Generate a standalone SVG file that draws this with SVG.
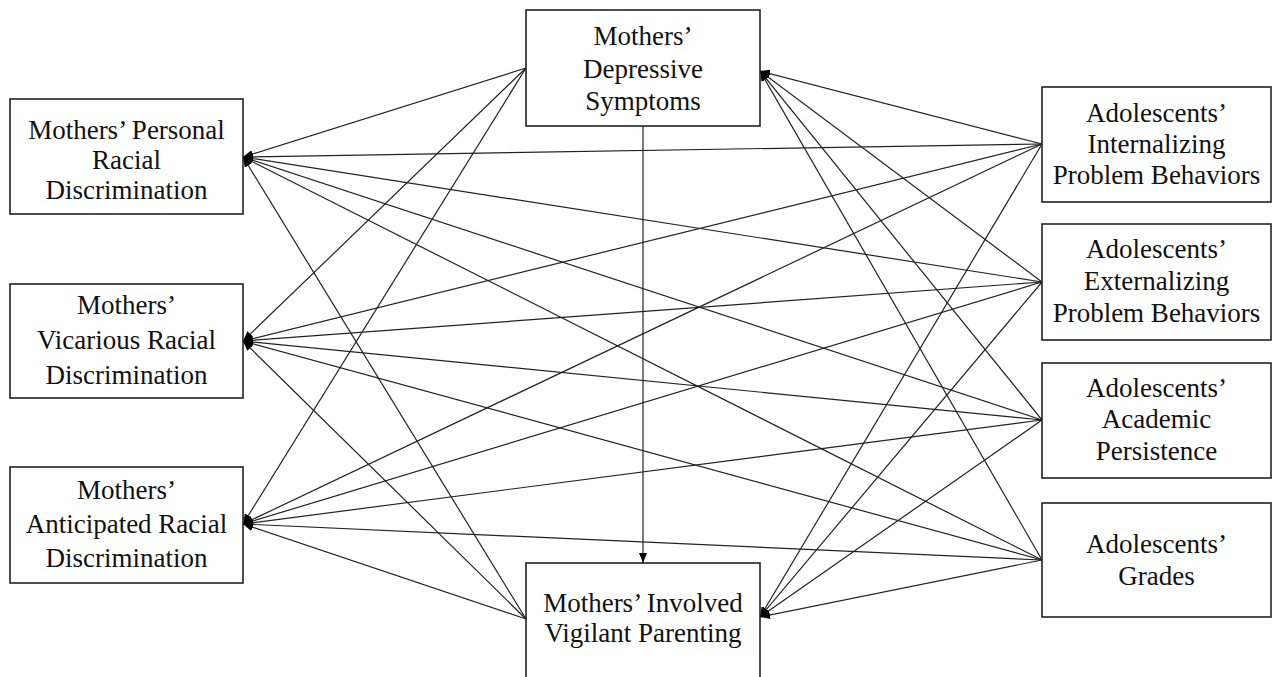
<svg xmlns="http://www.w3.org/2000/svg" width="1272" height="677" viewBox="0 0 1272 677">
<style>
.box{fill:#fff;stroke:#222;stroke-width:1.6}
.t{font-family:"Liberation Serif","Times New Roman",serif;font-size:27px;fill:#111;text-anchor:middle}
.c line{stroke:#222;stroke-width:1.2}
</style>
<defs>
<marker id="ah" markerUnits="userSpaceOnUse" markerWidth="10" markerHeight="8" refX="10" refY="4" orient="auto">
<path d="M0,0 L10,4 L0,8 z" fill="#000"/>
</marker>
</defs>
<rect width="1272" height="677" fill="#fff"/>
<g class="c" id="connectors">
<line x1="1042" y1="144" x2="243" y2="157" marker-end="url(#ah)"/>
<line x1="1042" y1="282" x2="243" y2="157" marker-end="url(#ah)"/>
<line x1="1042" y1="420" x2="243" y2="157" marker-end="url(#ah)"/>
<line x1="1042" y1="560" x2="243" y2="157" marker-end="url(#ah)"/>
<line x1="1042" y1="144" x2="243" y2="341" marker-end="url(#ah)"/>
<line x1="1042" y1="282" x2="243" y2="341" marker-end="url(#ah)"/>
<line x1="1042" y1="420" x2="243" y2="341" marker-end="url(#ah)"/>
<line x1="1042" y1="560" x2="243" y2="341" marker-end="url(#ah)"/>
<line x1="1042" y1="144" x2="243" y2="524" marker-end="url(#ah)"/>
<line x1="1042" y1="282" x2="243" y2="524" marker-end="url(#ah)"/>
<line x1="1042" y1="420" x2="243" y2="524" marker-end="url(#ah)"/>
<line x1="1042" y1="560" x2="243" y2="524" marker-end="url(#ah)"/>
<line x1="1042" y1="144" x2="760" y2="71" marker-end="url(#ah)"/>
<line x1="1042" y1="282" x2="760" y2="71" marker-end="url(#ah)"/>
<line x1="1042" y1="420" x2="760" y2="71" marker-end="url(#ah)"/>
<line x1="1042" y1="560" x2="760" y2="71" marker-end="url(#ah)"/>
<line x1="1042" y1="144" x2="760" y2="617" marker-end="url(#ah)"/>
<line x1="1042" y1="282" x2="760" y2="617" marker-end="url(#ah)"/>
<line x1="1042" y1="420" x2="760" y2="617" marker-end="url(#ah)"/>
<line x1="1042" y1="560" x2="760" y2="617" marker-end="url(#ah)"/>
<line x1="526" y1="68" x2="243" y2="157" marker-end="url(#ah)"/>
<line x1="526" y1="68" x2="243" y2="341" marker-end="url(#ah)"/>
<line x1="526" y1="68" x2="243" y2="524" marker-end="url(#ah)"/>
<line x1="526" y1="619" x2="243" y2="157" marker-end="url(#ah)"/>
<line x1="526" y1="619" x2="243" y2="341" marker-end="url(#ah)"/>
<line x1="526" y1="619" x2="243" y2="524" marker-end="url(#ah)"/>
<line x1="643" y1="126" x2="643" y2="563" marker-end="url(#ah)"/>
</g>
<g id="personal">
<rect class="box" x="10" y="99" width="233" height="115"/>
<text class="t" x="126.5" y="139">Mothers’ Personal</text>
<text class="t" x="126.5" y="169">Racial</text>
<text class="t" x="126.5" y="199">Discrimination</text>
</g>
<g id="vicarious">
<rect class="box" x="10" y="284" width="233" height="114"/>
<text class="t" x="126.5" y="314">Mothers’</text>
<text class="t" x="126.5" y="349">Vicarious Racial</text>
<text class="t" x="126.5" y="384">Discrimination</text>
</g>
<g id="anticipated">
<rect class="box" x="10" y="467" width="233" height="116"/>
<text class="t" x="126.5" y="499">Mothers’</text>
<text class="t" x="126.5" y="533">Anticipated Racial</text>
<text class="t" x="126.5" y="567">Discrimination</text>
</g>
<g id="depressive">
<rect class="box" x="526" y="10" width="234" height="116"/>
<text class="t" x="643" y="45">Mothers’</text>
<text class="t" x="643" y="78">Depressive</text>
<text class="t" x="643" y="110">Symptoms</text>
</g>
<g id="involved">
<rect class="box" x="526" y="563" width="234" height="130"/>
<text class="t" x="643" y="612">Mothers’ Involved</text>
<text class="t" x="643" y="642">Vigilant Parenting</text>
</g>
<g id="internalizing">
<rect class="box" x="1042" y="87" width="229" height="115"/>
<text class="t" x="1156.5" y="122">Adolescents’</text>
<text class="t" x="1156.5" y="153">Internalizing</text>
<text class="t" x="1156.5" y="184">Problem Behaviors</text>
</g>
<g id="externalizing">
<rect class="box" x="1042" y="224" width="229" height="116"/>
<text class="t" x="1156.5" y="258">Adolescents’</text>
<text class="t" x="1156.5" y="290">Externalizing</text>
<text class="t" x="1156.5" y="322">Problem Behaviors</text>
</g>
<g id="academic">
<rect class="box" x="1042" y="363" width="229" height="115"/>
<text class="t" x="1156.5" y="397">Adolescents’</text>
<text class="t" x="1156.5" y="428">Academic</text>
<text class="t" x="1156.5" y="460">Persistence</text>
</g>
<g id="grades">
<rect class="box" x="1042" y="503" width="229" height="114"/>
<text class="t" x="1156.5" y="553">Adolescents’</text>
<text class="t" x="1156.5" y="585">Grades</text>
</g>
</svg>
